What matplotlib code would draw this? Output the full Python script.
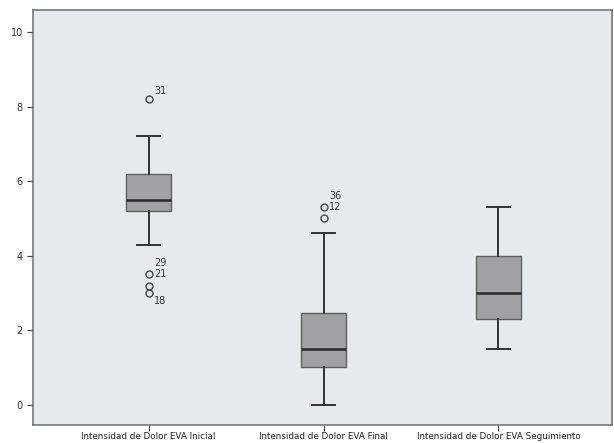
import matplotlib
matplotlib.use("Agg")
import matplotlib.pyplot as plt

# etiquetas de las variables
labels = ["Intensidad de Dolor EVA Inicial",
          "Intensidad de Dolor EVA Final",
          "Intensidad de Dolor EVA Seguimiento"]

# estadisticos (min, Q1, mediana, Q3, max)
whislo = [4.3, 0.0, 1.5]
q1 = [5.2, 1.0, 2.3]
med = [5.5, 1.5, 3.0]
q3 = [6.2, 2.45, 4.0]
whishi = [7.2, 4.6, 5.3]

# valores atipicos y sus etiquetas de caso
fliers = [[8.2, 3.5, 3.2, 3.0], [5.3, 5.0], []]
flier_ids = [["31", "21", "", "18"], ["12", ""], []]

stats = []
for i in range(len(labels)):
    stats.append({"label": labels[i], "whislo": whislo[i], "q1": q1[i],
                  "med": med[i], "q3": q3[i], "whishi": whishi[i],
                  "fliers": fliers[i]})

fig = plt.figure(figsize=(6.14, 4.43), dpi=100)
ax = fig.add_axes([0.054, 0.041, 0.943, 0.936])
ax.set_facecolor("#e8e9ec")

edge = "#606060"
ax.bxp(stats, positions=[1, 2, 3], widths=0.26, patch_artist=True,
       boxprops=dict(facecolor="#a2a2a4", edgecolor=edge, linewidth=1.0),
       medianprops=dict(color="#2a2a2a", linewidth=1.8),
       whiskerprops=dict(color="#333333", linewidth=1.4),
       capprops=dict(color="#333333", linewidth=1.4),
       capwidths=0.13,
       flierprops=dict(marker="o", markersize=5, markerfacecolor="none",
                       markeredgecolor="#444444", markeredgewidth=1.0))

# etiquetas de los atipicos
for i, (vals, ids) in enumerate(zip(fliers, flier_ids)):
    for v, t in zip(vals, ids):
        if not t:
            continue
        dy = 0.0
        if t == "31":
            dy = 0.22
        elif t == "18":
            dy = -0.22
        ax.text(i + 1 + 0.03, v + dy, t, fontsize=7, color="#333333",
                va="center", ha="left")
# etiquetas de casos superpuestos
ax.text(1 + 0.035, 3.8, "29", fontsize=7, color="#333333", va="center", ha="left")
ax.text(2 + 0.035, 5.6, "36", fontsize=7, color="#333333", va="center", ha="left")

ax.set_xlim(0.34, 3.65)
ax.set_ylim(-0.54, 10.59)
ax.set_yticks([0, 2, 4, 6, 8, 10])
ax.tick_params(axis="y", labelsize=7, length=4, color="#444444", labelcolor="#333333")
ax.tick_params(axis="x", labelsize=6.3, length=4, color="#444444", labelcolor="#222222", pad=1)
for s in ax.spines.values():
    s.set_color("#777777")
    s.set_linewidth(1.2)

fig.savefig("out.png", dpi=100)
